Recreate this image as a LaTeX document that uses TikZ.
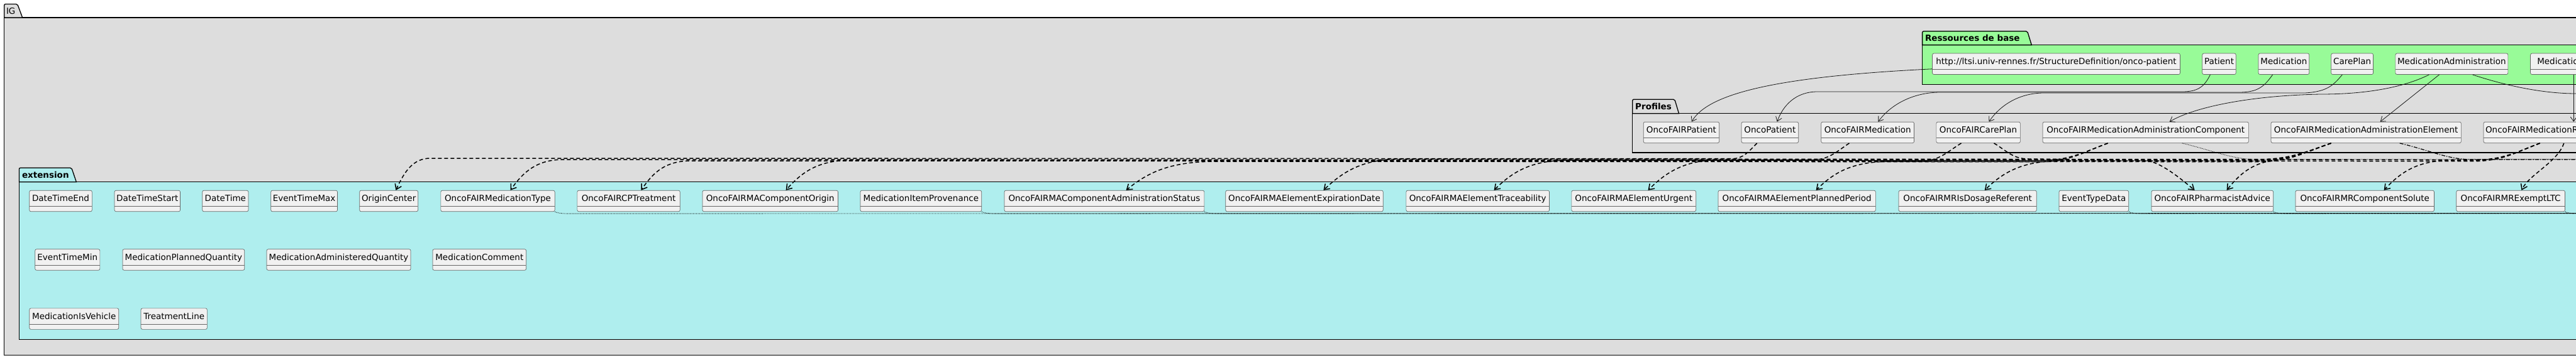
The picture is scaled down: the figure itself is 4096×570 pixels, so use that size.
\documentclass[tikz,border=0pt]{standalone}
\usepackage{fontspec}
\setmainfont{DejaVu Sans}
\usetikzlibrary{arrows.meta,calc}

\newcommand{\XEnd}{4300}
\newcommand{\YR}{84.7}
\newcommand{\YP}{193.8}
\newcommand{\YA}{302.9}
\newcommand{\YB}{396.4}
\newcommand{\YC}{490.5}
\definecolor{igfill}{HTML}{DDDDDD}
\definecolor{resfill}{HTML}{98FB98}
\definecolor{extfill}{HTML}{AFEEEE}
\definecolor{clsfill}{HTML}{F1F1F1}
\definecolor{clsline}{HTML}{181818}

\begin{document}
\begin{tikzpicture}[x=1pt,y=-1pt,
        cls/.style={draw=black!60,line width=0.7pt,fill=clsfill,rounded corners=2.5pt,
            anchor=north west,minimum height=33.5pt,inner xsep=3pt,inner ysep=0pt,
            text height=17.5pt,text depth=16pt,font=\fontsize{13.5pt}{16pt}\selectfont,
            path picture={\draw[black!60,line width=0.7pt]
                ([yshift=8pt]path picture bounding box.south west) --
                ([yshift=8pt]path picture bounding box.south east);}},
        pkg/.style={draw=black,line width=1.3pt},
        pkgtitle/.style={inner sep=0pt,anchor=west,text height=9.8pt,text depth=0pt,
            font=\fontsize{13.5pt}{16pt}\selectfont\bfseries},
        base/.style={draw=clsline,line width=0.8pt,-{Straight Barb[length=7pt,width=10pt]}},
        ext/.style={line width=1.5pt,dash pattern=on 6pt off 4pt,-{Straight Barb[length=8pt,width=11pt]}},
        hint/.style={line width=0.9pt,dash pattern=on 1pt off 1.5pt},
        hintdd/.style={line width=1.2pt,dash pattern=on 6pt off 2pt on 1.5pt off 2pt}]
        \useasboundingbox (0,0) rectangle (4096,570);
        \clip (0,0) rectangle (4096,570);

        % packages
        \filldraw[pkg,fill=igfill] (6.7,28) rectangle (\XEnd,565.5);
        \filldraw[pkg,fill=igfill,rounded corners=2pt] (6.7,28) -- (6.7,6.5) -- (27.7,6.5) [sharp corners] -- (35.7,28) -- cycle;
        \node[pkgtitle,font=\fontsize{13.5pt}{16pt}\selectfont] (IG) at (9.8,17.3) {IG};

        \filldraw[pkg,fill=resfill] (3056.6,71.6) rectangle (\XEnd,134.5);
        \filldraw[pkg,fill=resfill,rounded corners=2pt] (3056.6,71.6) -- (3056.6,49.8) -- (3223.6,49.8) [sharp corners] -- (3230.3,71.6) -- cycle;
        \node[pkgtitle] (RB) at (3060.8,60.7) {Ressources de base};

        \filldraw[pkg,fill=igfill] (2595.8,180.7) rectangle (\XEnd,242.9);
        \filldraw[pkg,fill=igfill,rounded corners=2pt] (2595.8,180.7) -- (2595.8,158.2) -- (2662.8,158.2) [sharp corners] -- (2669.5,180.7) -- cycle;
        \node[pkgtitle] (PR) at (2600,169.5) {Profiles};

        \filldraw[pkg,fill=extfill] (30.4,289.8) rectangle (\XEnd,540.7);
        \filldraw[pkg,fill=extfill,rounded corners=2pt] (30.4,289.8) -- (30.4,267.3) -- (113.8,267.3) [sharp corners] -- (121.4,289.8) -- cycle;
        \node[pkgtitle] (EX) at (34.8,278.6) {extension};

        % base resources
        \node[cls,minimum width=393.9pt] (url) at (3072.2,\YR) {http://ltsi.univ-rennes.fr/StructureDefinition/onco-patient};
        \foreach \X/\W/\T in {3501.4/53.5/Patient, 3590.6/80.8/Medication, 3706.3/66.9/CarePlan,
                3808.5/179/MedicationAdministration, 4023.2/150/MedicationRequest} {
            \node[cls,minimum width=\W*1pt] (R-\T) at (\X,\YR) {\T};
        }

        % profiles
        \foreach \X/\W/\T in {2612.8/120.5/OncoFAIRPatient, 2768.7/90.6/OncoPatient,
                2895.4/147.8/OncoFAIRMedication, 3078.5/133.5/OncoFAIRCarePlan,
                3247.7/327.3/OncoFAIRMedicationAdministrationComponent,
                3610.7/302.3/OncoFAIRMedicationAdministrationElement,
                3948.7/190/OncoFAIRMedicationRequest} {
            \node[cls,minimum width=\W*1pt] (\T) at (\X,\YP) {\T};
        }

        % extensions
        \foreach \X/\W/\T in {46.4/99.6/DateTimeEnd, 181.7/104.5/DateTimeStart, 321.4/73.2/DateTime,
                430.4/105.8/EventTimeMax, 571.4/92.9/OriginCenter, 700.5/181.3/OncoFAIRMedicationType,
                917.5/163.4/OncoFAIRCPTreatment, 1116.6/215.6/OncoFAIRMAComponentOrigin,
                1367.6/192.8/MedicationItemProvenance, 1596.6/317.9/OncoFAIRMAComponentAdministrationStatus,
                1948.4/250.5/OncoFAIRMAElementExpirationDate, 2235.5/227.7/OncoFAIRMAElementTraceability,
                2498.5/197.8/OncoFAIRMAElementUrgent, 2731.6/250.4/OncoFAIRMAElementPlannedPeriod,
                3018.7/219.2/OncoFAIRMRIsDosageReferent, 3273.6/110.7/EventTypeData,
                3420.6/193.7/OncoFAIRPharmacistAdvice, 3649.6/220.5/OncoFAIRMRComponentSolute,
                3905.4/172.7/OncoFAIRMRExemptLTC} {
            \node[cls,minimum width=\W*1pt] (\T) at (\X,\YA) {\T};
        }
        \foreach \X/\W/\T in {55.4/103.1/EventTimeMin, 194.6/193.8/MedicationPlannedQuantity,
                423.7/229/MedicationAdministeredQuantity, 687.6/148.7/MedicationComment} {
            \node[cls,minimum width=\W*1pt] (\T) at (\X,\YB) {\T};
        }
        \foreach \X/\W/\T in {46.4/142/MedicationIsVehicle, 223.7/105.3/TreatmentLine} {
            \node[cls,minimum width=\W*1pt] (\T) at (\X,\YC) {\T};
        }

        % resources -> profiles
        \draw[base] ([yshift=-8pt]url.west) .. controls (2820,122) and (2715,150) .. ([xshift=77pt]OncoFAIRPatient.north west);
        \draw[base] ([xshift=13pt]R-Patient.south west) .. controls (3505,138) and (3495,146) .. (3470,146)
            -- (2890,146) .. controls (2855,146) and (2835,168) .. ([xshift=57pt]OncoPatient.north west);
        \draw[base] ([xshift=23pt]R-Medication.south west) .. controls (3600,138) and (3590,147) .. (3560,147)
            -- (3085,147) .. controls (3040,147) and (3005,168) .. ([xshift=91pt]OncoFAIRMedication.north west);
        \draw[base] ([xshift=18pt]R-CarePlan.south west) .. controls (3710,136) and (3700,146) .. (3665,148)
            -- (3250,148) .. controls (3210,148) and (3180,168) .. ([xshift=84pt]OncoFAIRCarePlan.north west);
        \draw[base] ([xshift=54pt]R-MedicationAdministration.south west) .. controls (3820,140) and (3760,150) .. (3690,150)
            .. controls (3580,152) and (3490,170) .. ([xshift=202pt]OncoFAIRMedicationAdministrationComponent.north west);
        \draw[base] ([xshift=70pt]R-MedicationAdministration.south west) -- ([xshift=174pt]OncoFAIRMedicationAdministrationElement.north west);
        \coordinate (offMA) at (\XEnd,150);
        \draw[base] ([xshift=123pt]R-MedicationAdministration.south west) .. controls (3980,135) and (4040,149) .. (4096,149) -- (offMA);
        \draw[base] ([xshift=69pt]R-MedicationRequest.south west) coordinate (mr) -- (mr |- OncoFAIRMedicationRequest.north);

        % profiles -> extensions
        \foreach \S/\sx/\T/\tx/\by/\ds/\dx in {
                OncoPatient/25/OriginCenter/58/252/40/55,
                OncoFAIRMedication/45/OncoFAIRMedicationType/111/254/60/85,
                OncoFAIRCarePlan/40/OncoFAIRCPTreatment/102/256/65/80,
                OncoFAIRMedicationAdministrationComponent/104/OncoFAIRMAComponentOrigin/133/255/110/105,
                OncoFAIRMedicationAdministrationComponent/104/OncoFAIRMAComponentAdministrationStatus/194/257/110/145,
                OncoFAIRMedicationAdministrationElement/96/OncoFAIRMAElementExpirationDate/156/253/118/125,
                OncoFAIRMedicationAdministrationElement/96/OncoFAIRMAElementTraceability/140/255/118/120,
                OncoFAIRMedicationAdministrationElement/96/OncoFAIRMAElementUrgent/122/254/118/120,
                OncoFAIRMedicationAdministrationElement/96/OncoFAIRMAElementPlannedPeriod/156/257/118/120,
                OncoFAIRMedicationRequest/90/OncoFAIRMRIsDosageReferent/137/256/107/123,
                OncoFAIRMedicationRequest/90/OncoFAIRPharmacistAdvice/120/254/107/95,
                OncoFAIRMedicationRequest/90/OncoFAIRMRComponentSolute/141/255/107/110} {
            \draw[ext] ([xshift=\sx*1pt]\S.south west) .. controls +(-0.35*\ds,14) and +(0.45*\ds,0) .. ++(-\ds,\by-227.3)
                -- ([xshift={(\tx+\dx)*1pt},yshift={(302.9-\by)*1pt}]\T.north west)
                .. controls +(-0.5*\dx,0) and +(0.25*\dx,-30) .. ([xshift=\tx*1pt]\T.north west);
        }
        \draw[ext] ([xshift=92pt]OncoFAIRCarePlan.south west) .. controls +(20,12) and +(-25,0) .. ++(55,25)
            -- ([xshift=-15pt,yshift=48pt]OncoFAIRPharmacistAdvice.north west)
            .. controls +(25,0) and +(-30,-25) .. ([xshift=69pt]OncoFAIRPharmacistAdvice.north west);
        \draw[ext] ([xshift=128pt]OncoFAIRMedicationRequest.south west) .. controls +(-10,30) and +(12,-25) .. ([xshift=104pt]OncoFAIRMRExemptLTC.north west);

        % links leaving the view
        \coordinate (offB) at (\XEnd,339.5);
        \coordinate (offC) at (\XEnd,253.3);
        \coordinate (offD) at (\XEnd,253.8);
        \draw[hint] ([xshift=222pt]OncoFAIRMedicationAdministrationComponent.south west) .. controls +(50,12) and +(-40,0) .. ++(120,26) -- (offC);
        \draw[hintdd] ([xshift=205pt]OncoFAIRMedicationAdministrationElement.south west) .. controls +(50,12) and +(-40,0) .. ++(116,26) -- (offD);
        \foreach \T in {OncoFAIRMedicationType, MedicationItemProvenance, OncoFAIRMAComponentAdministrationStatus,
                EventTypeData, OncoFAIRPharmacistAdvice, OncoFAIRMRExemptLTC} {
            \draw[hint] (\T.south east) .. controls +(6,3) and +(-10,0) .. ++(25,3) -- (offB);
        }

    \end{tikzpicture}
\end{document}
